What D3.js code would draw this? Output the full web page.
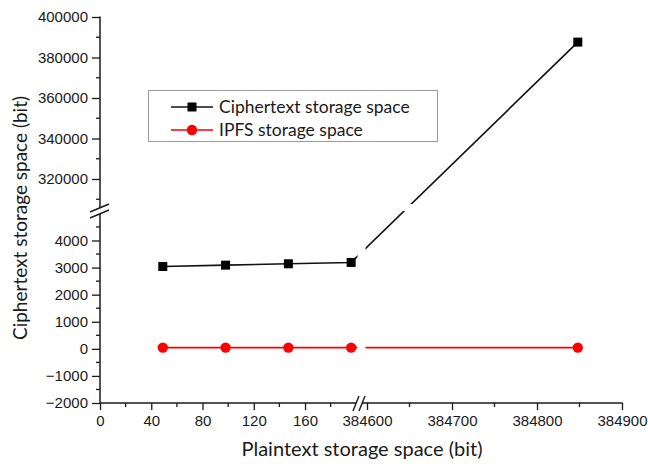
<!DOCTYPE html>
<html>
<head>
<meta charset="utf-8">
<script src="https://cdn.jsdelivr.net/npm/d3@7"></script>
<style>
  body { margin: 0; background: #fff; }
  svg { display: block; font-family: Lato, "Noto Sans", sans-serif; }
</style>
</head>
<body>
<svg id="chart"></svg>
<script>
// plaintext sizes (bit) and the two series
const plainBits = [49, 98, 147, 196, 384848];
const cipherBits = [3040, 3090, 3140, 3190, 387600];
const ipfsBits = [46, 46, 46, 46, 46];
const seriesNames = ["Ciphertext storage space", "IPFS storage space"];

const xTicksLow = [0, 40, 80, 120, 160];
const xMinorLow = [20, 60, 100, 140, 180];
const xTicksHigh = [384600, 384700, 384800, 384900];
const xMinorHigh = [384650, 384750, 384850];
const yTicksLow = [-2000, -1000, 0, 1000, 2000, 3000, 4000];
const yMinorLow = [-1500, -500, 500, 1500, 2500, 3500, 4500];
const yTicksHigh = [320000, 340000, 360000, 380000, 400000];
const yMinorHigh = [310000, 330000, 350000, 370000, 390000];

const width = 648, height = 464;
const axisX = 100, axisY = 403;

// broken scales: two pieces on each axis
const xLow = d3.scaleLinear([0, 199], [axisX, 355]);
const xHigh = d3.scaleLinear([384600, 384900], [367, 622]);
const yLow = d3.scaleLinear([-2000, 4000], [axisY, 240.5]);
const yHigh = d3.scaleLinear([320000, 400000], [179, 17]);
const px = v => v < 1000 ? xLow(v) : xHigh(v);
const py = v => v < 10000 ? yLow(v) : yHigh(v);

const svg = d3.select("#chart")
    .attr("width", width)
    .attr("height", height)
    .attr("viewBox", [0, 0, width, height]);

const ink = "#1a1a1a";

// y axis pieces
function yAxisPiece(scale, major, minor, range) {
  const g = svg.append("g").attr("transform", `translate(${axisX},0)`);
  g.call(d3.axisLeft(scale).tickValues(major).tickSize(8).tickPadding(4).tickFormat(d3.format("d")))
    .call(g => g.select(".domain").remove())
    .call(g => g.selectAll("text").attr("font-size", 15).attr("fill", ink))
    .call(g => g.selectAll(".tick line").attr("stroke", ink).attr("stroke-width", 1.3));
  g.selectAll(".minor").data(minor).join("line")
      .attr("x1", -4).attr("x2", 0)
      .attr("y1", d => scale(d)).attr("y2", d => scale(d))
      .attr("stroke", ink).attr("stroke-width", 1.3);
  g.append("line").attr("x1", 0).attr("x2", 0)
      .attr("y1", range[0]).attr("y2", range[1])
      .attr("stroke", ink).attr("stroke-width", 1.5);
}
yAxisPiece(yHigh, yTicksHigh, yMinorHigh, [16.5, 208]);
yAxisPiece(yLow, yTicksLow, yMinorLow, [214, axisY]);

// x axis pieces
function xAxisPiece(scale, major, minor, range) {
  const g = svg.append("g").attr("transform", `translate(0,${axisY})`);
  g.call(d3.axisBottom(scale).tickValues(major).tickSize(7).tickPadding(5).tickFormat(d3.format("d")))
    .call(g => g.select(".domain").remove())
    .call(g => g.selectAll("text").attr("font-size", 15).attr("fill", ink))
    .call(g => g.selectAll(".tick line").attr("stroke", ink).attr("stroke-width", 1.3));
  g.selectAll(".minor").data(minor).join("line")
      .attr("y1", 0).attr("y2", 4)
      .attr("x1", d => scale(d)).attr("x2", d => scale(d))
      .attr("stroke", ink).attr("stroke-width", 1.3);
  g.append("line").attr("y1", 0).attr("y2", 0)
      .attr("x1", range[0]).attr("x2", range[1])
      .attr("stroke", ink).attr("stroke-width", 1.5);
}
xAxisPiece(xLow, xTicksLow, xMinorLow, [axisX, 356]);
xAxisPiece(xHigh, xTicksHigh, xMinorHigh, [362, 622.5]);

// break marks
const brk = svg.append("g").attr("stroke", ink).attr("stroke-width", 1.4).attr("fill", "none");
[0, 6].forEach(dy => {
  brk.append("line")
      .attr("x1", axisX - 10).attr("y1", 212 + dy)
      .attr("x2", axisX + 9).attr("y2", 204 + dy);
});
[0, 6].forEach(dx => {
  brk.append("line")
      .attr("x1", 353 + dx).attr("y1", 411)
      .attr("x2", 359 + dx).attr("y2", 396);
});

// mask to cut lines at the breaks
const defs = svg.append("defs");
const mask = defs.append("mask").attr("id", "gaps");
mask.append("rect").attr("width", width).attr("height", height).attr("fill", "#fff");
mask.append("rect").attr("x", 357.5).attr("y", 0).attr("width", 8).attr("height", axisY).attr("fill", "#000");
mask.append("rect").attr("x", axisX + 10).attr("y", 204).attr("width", width).attr("height", 7).attr("fill", "#000");

const line = d3.line().x(d => px(d[0])).y(d => py(d[1]));
const cipherData = d3.zip(plainBits, cipherBits);
const ipfsData = d3.zip(plainBits, ipfsBits);

const lines = svg.append("g").attr("mask", "url(#gaps)").attr("fill", "none").attr("stroke-width", 1.6);
lines.append("path").attr("d", line(cipherData)).attr("stroke", "#111");
lines.append("path").attr("d", line(ipfsData)).attr("stroke", "#ff0000");

svg.append("g").selectAll("rect").data(cipherData).join("rect")
    .attr("x", d => px(d[0]) - 4.5).attr("y", d => py(d[1]) - 4.5)
    .attr("width", 9).attr("height", 9).attr("fill", "#000");
svg.append("g").selectAll("circle").data(ipfsData).join("circle")
    .attr("cx", d => px(d[0])).attr("cy", d => py(d[1]))
    .attr("r", 5.2).attr("fill", "#ff0000");

// legend
const legend = svg.append("g");
legend.append("rect")
    .attr("x", 148.5).attr("y", 90.5).attr("width", 289).attr("height", 51)
    .attr("fill", "#fff").attr("stroke", "#999").attr("stroke-width", 1);
const legendRows = [
  {name: seriesNames[0], color: "#111", y: 107, shape: "square"},
  {name: seriesNames[1], color: "#ff0000", y: 130, shape: "circle"}
];
legendRows.forEach(r => {
  legend.append("line").attr("x1", 171).attr("x2", 213).attr("y1", r.y).attr("y2", r.y)
      .attr("stroke", r.color).attr("stroke-width", 1.6);
  if (r.shape === "square") {
    legend.append("rect").attr("x", 192 - 4.5).attr("y", r.y - 4.5).attr("width", 9).attr("height", 9).attr("fill", "#000");
  } else {
    legend.append("circle").attr("cx", 192).attr("cy", r.y).attr("r", 5.2).attr("fill", r.color);
  }
  legend.append("text").attr("x", 219).attr("y", r.y).attr("dy", "0.35em")
      .attr("font-size", 17.5).attr("fill", ink).text(r.name);
});

// axis titles
svg.append("text")
    .attr("transform", `translate(27,${218}) rotate(-90)`)
    .attr("text-anchor", "middle").attr("font-size", 19).attr("fill", ink)
    .text("Ciphertext storage space (bit)");
svg.append("text")
    .attr("x", 362).attr("y", 456)
    .attr("text-anchor", "middle").attr("font-size", 20).attr("fill", ink)
    .text("Plaintext storage space (bit)");
</script>
</body>
</html>
